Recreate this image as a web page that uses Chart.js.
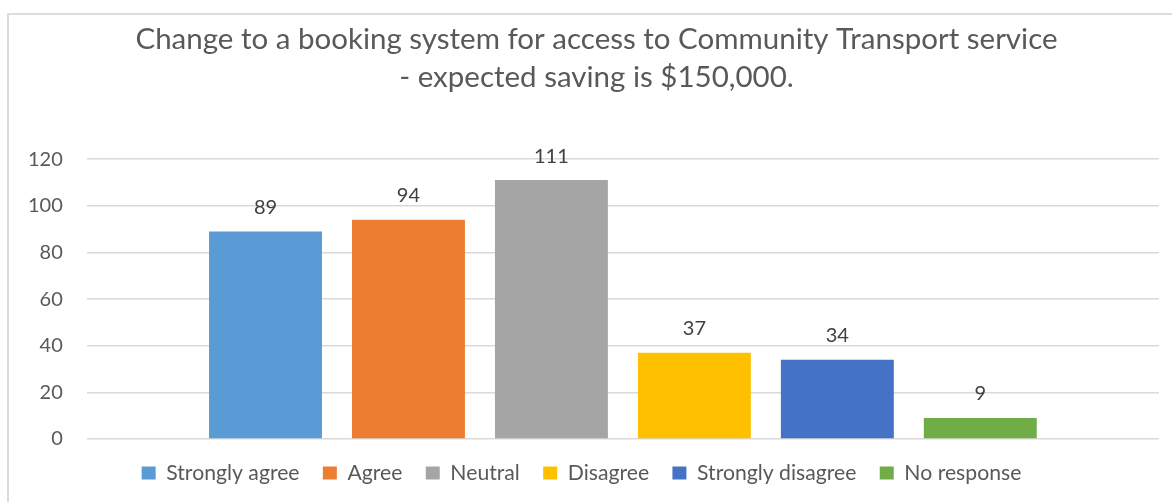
<!DOCTYPE html>
<html>
<head>
<meta charset="utf-8">
<script src="https://cdn.jsdelivr.net/npm/chart.js@4/dist/chart.umd.min.js"></script>
<style>
  body { margin: 0; background: #fff; overflow: hidden; }
  #wrap { position: relative; width: 1172px; height: 502px; overflow: hidden; }
  #frame { position: absolute; left: 7px; top: 13px; width: 1200px; height: 520px; border: 2px solid #dcdcdc; box-sizing: border-box; }
  canvas { position: absolute; left: 0; top: 0; }
</style>
</head>
<body>
<div id="wrap">
  <div id="frame"></div>
  <canvas id="booking_chart" width="1172" height="502"></canvas>
</div>
<script>
const responses = ['Strongly agree', 'Agree', 'Neutral', 'Disagree', 'Strongly disagree', 'No response'];
const counts = [89, 94, 111, 37, 34, 9];
const barColors = ['#5b9bd5', '#ed7d31', '#a5a5a5', '#ffc000', '#4472c4', '#70ad47'];
const yTicks = [0, 20, 40, 60, 80, 100, 120];

// value labels above each bar
const valueLabels = {
    id: 'valueLabels',
    afterLayout(chart) {
        // title sits a bit right of the plot centre in the original
        chart.titleBlock.left += 15;
        chart.titleBlock.right += 15;
    },
    afterDatasetsDraw(chart) {
        const ctx = chart.ctx;
        ctx.save();
        ctx.font = '20px Lato';
        ctx.fillStyle = '#404040';
        ctx.textAlign = 'center';
        ctx.textBaseline = 'bottom';
        chart.data.datasets.forEach((ds, i) => {
            chart.getDatasetMeta(i).data.forEach((bar, j) => {
                ctx.fillText(ds.data[j], bar.x, bar.y - 14);
            });
        });
        ctx.restore();
    }
};

const ctx = document.getElementById('booking_chart').getContext('2d');
new Chart(ctx, {
    type: 'bar',
    data: {
        labels: [''],
        datasets: responses.map((name, i) => ({
            label: name,
            data: [counts[i]],
            backgroundColor: barColors[i],
            borderWidth: 0
        }))
    },
    options: {
        responsive: false,
        animation: false,
        categoryPercentage: 0.8,
        barPercentage: 0.79,
        layout: {
            padding: { left: 4, right: 13, top: 10, bottom: 8.5 }
        },
        plugins: {
            title: {
                display: true,
                text: ['Change to a booking system for access to Community Transport service', '- expected saving is $150,000.'],
                color: '#595959',
                font: { family: 'Lato', size: 29.5, weight: 'normal', lineHeight: 1.29 },
                padding: { top: 10, bottom: 63 }
            },
            legend: {
                position: 'bottom',
                labels: {
                    color: '#595959',
                    font: { family: 'Lato', size: 21.2 },
                    boxWidth: 14,
                    boxHeight: 13,
                    padding: 23.3
                }
            },
            tooltip: { enabled: false }
        },
        scales: {
            x: {
                display: false
            },
            y: {
                min: 0,
                max: 120,
                afterBuildTicks: axis => { axis.ticks = yTicks.map(v => ({ value: v })); },
                grid: { color: '#d9d9d9', lineWidth: 1.5, drawTicks: false },
                border: { display: false },
                ticks: {
                    color: '#595959',
                    font: { family: 'Lato', size: 20 },
                    padding: 24
                }
            }
        }
    },
    plugins: [valueLabels]
});
</script>
</body>
</html>
